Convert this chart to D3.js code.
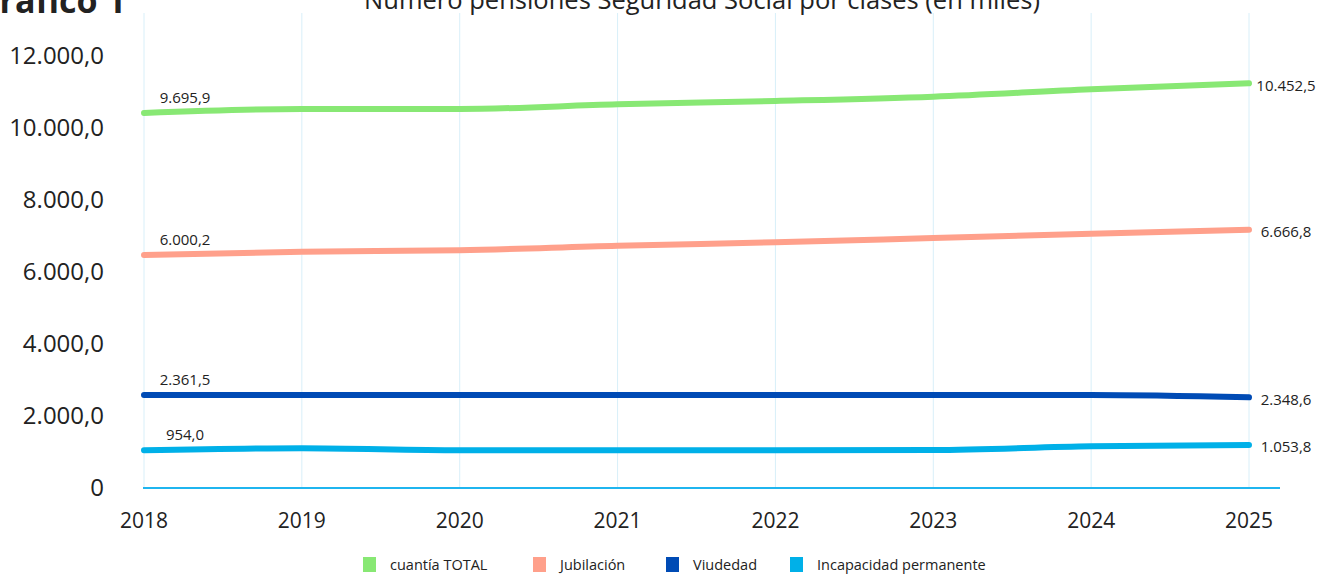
<!DOCTYPE html>
<html><head><meta charset="utf-8">
<script src="https://cdn.jsdelivr.net/npm/d3@7"></script>
<style>body{margin:0;background:#fff;}svg{display:block;font-family:"Open Sans",sans-serif;}</style>
</head><body>
<svg id="c" width="1317" height="574"></svg>
<script>
const years = [2018, 2019, 2020, 2021, 2022, 2023, 2024, 2025];
const seriesNames = ["cuantía TOTAL", "Jubilación", "Viudedad", "Incapacidad permanente"];
const colors = ["#88e874", "#ffa08b", "#004bb5", "#00b0e8"];
const total = [10417, 10528, 10528, 10658, 10750, 10870, 11075, 11240];
const jubilacion = [6472, 6564, 6603, 6731, 6825, 6944, 7064, 7175];
const viudedad = [2583, 2583, 2583, 2583, 2583, 2583, 2583, 2519];
const incapacidad = [1047, 1102, 1047, 1047, 1047, 1055, 1158, 1194];
const startLabels = ["9.695,9", "6.000,2", "2.361,5", "954,0"];
const endLabels = ["10.452,5", "6.666,8", "2.348,6", "1.053,8"];
const yTicks = [0, 2000, 4000, 6000, 8000, 10000, 12000];
const title = "Número pensiones Seguridad Social por clases (en miles)";
const chartLabel = "Gráfico 1";

const series = [total, jubilacion, viudedad, incapacidad];
const svg = d3.select("#c");
const x = d3.scaleLinear().domain([2018, 2025]).range([144, 1249]);
const y = d3.scaleLinear().domain([0, 12000]).range([488, 56]);

// vertical gridlines
svg.append("g").selectAll("line").data(years).join("line")
  .attr("x1", d => x(d)).attr("x2", d => x(d))
  .attr("y1", 13).attr("y2", 488)
  .attr("stroke", "#d8eff9").attr("stroke-width", 1);

// baseline
svg.append("line").attr("x1", 143).attr("x2", 1280)
  .attr("y1", y(0)).attr("y2", y(0))
  .attr("stroke", "#1fb5ef").attr("stroke-width", 2);

// y axis labels
const fmt = v => v === 0 ? "0" : d3.format(",.1f")(v).replace(/,/g, "#").replace(".", ",").replace(/#/g, ".");
svg.append("g").selectAll("text").data(yTicks).join("text")
  .attr("x", 104).attr("y", d => y(d))
  .attr("dy", "0.35em").attr("text-anchor", "end")
  .attr("font-size", 24).attr("fill", "#222")
  .text(fmt);

// x axis labels
svg.append("g").selectAll("text").data(years).join("text")
  .attr("x", d => x(d)).attr("y", 521)
  .attr("dy", "0.35em").attr("text-anchor", "middle")
  .attr("font-size", 21).attr("fill", "#222")
  .text(d => d);

// lines
const line = d3.line().x((d, i) => x(years[i])).y(d => y(d)).curve(d3.curveMonotoneX);
svg.append("g").selectAll("path").data(series).join("path")
  .attr("d", d => line(d))
  .attr("fill", "none")
  .attr("stroke", (d, i) => colors[i])
  .attr("stroke-width", 6)
  .attr("stroke-linecap", "round")
  .attr("stroke-linejoin", "round");

// start labels
svg.append("g").selectAll("text").data(series).join("text")
  .attr("x", x(years[0]) + 41)
  .attr("y", d => y(d[0]) - 10)
  .attr("text-anchor", "middle").attr("font-size", 15).attr("fill", "#222")
  .text((d, i) => startLabels[i]);

// end labels
svg.append("g").selectAll("text").data(series).join("text")
  .attr("x", x(years[years.length - 1]) + 37)
  .attr("y", d => y(d[d.length - 1]) + 2)
  .attr("dy", "0.35em")
  .attr("text-anchor", "middle").attr("font-size", 15).attr("fill", "#222")
  .text((d, i) => endLabels[i]);

// title
svg.append("text").attr("x", 702).attr("y", 9)
  .attr("text-anchor", "middle").attr("font-size", 25.5).attr("fill", "#222")
  .text(title);
svg.append("text").attr("x", -25).attr("y", 13)
  .attr("font-size", 34).attr("font-weight", "bold").attr("fill", "#222")
  .text(chartLabel);

// legend
const legendX = [363, 533, 666, 790];
const lg = svg.append("g").selectAll("g").data(seriesNames).join("g")
  .attr("transform", (d, i) => `translate(${legendX[i]},557)`);
lg.append("rect").attr("width", 13).attr("height", 15).attr("fill", (d, i) => colors[i]);
lg.append("text").attr("x", 27).attr("y", 8).attr("dy", "0.35em")
  .attr("font-size", 14.5).attr("fill", "#222").text(d => d);
</script>
</body></html>
